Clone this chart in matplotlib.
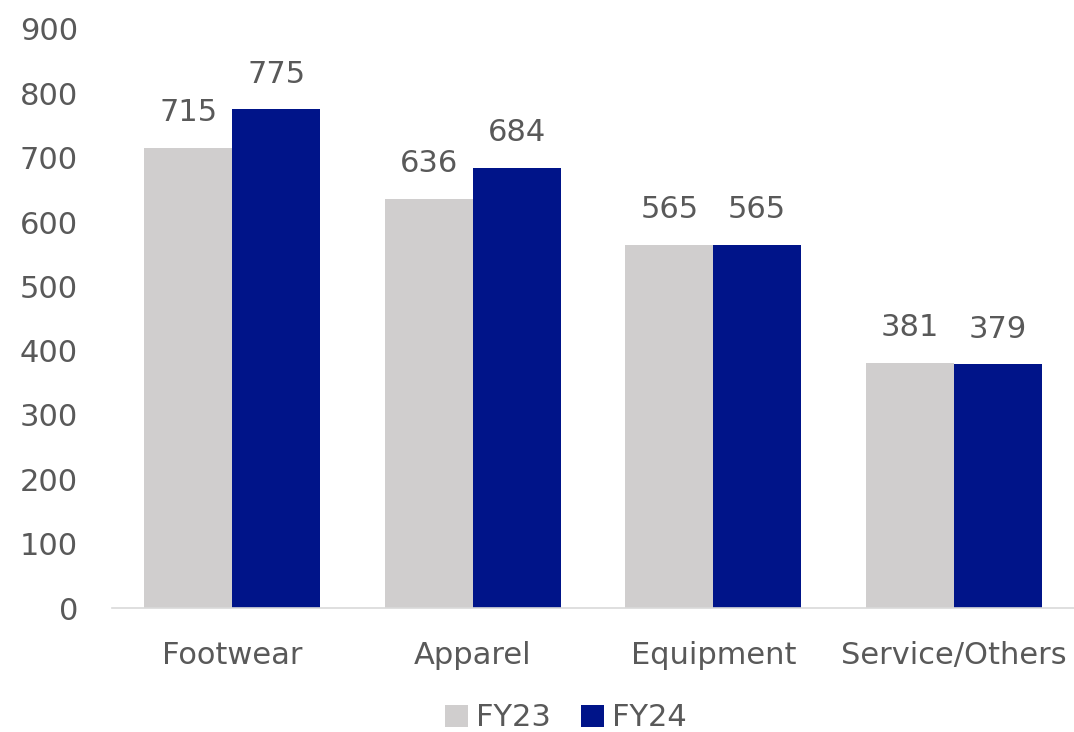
import matplotlib
matplotlib.use("Agg")
import matplotlib.pyplot as plt
import numpy as np

categories = ["Footwear", "Apparel", "Equipment", "Service/Others"]
fy23 = [715, 636, 565, 381]
fy24 = [775, 684, 565, 379]
series_names = ["FY23", "FY24"]
yticks = [0, 100, 200, 300, 400, 500, 600, 700, 800, 900]

c23 = "#D0CECE"
c24 = "#001489"
txt = "#595959"

plt.rcParams['font.family'] = ['DejaVu Sans']
fig = plt.figure(figsize=(10.74, 7.32), dpi=100)
ax = fig.add_axes([112/1074, 1-608/732, 962/1074, (608-29)/732])

x = np.arange(len(categories))
w = 0.365
b1 = ax.bar(x - w/2, fy23, w, color=c23, label=series_names[0])
b2 = ax.bar(x + w/2, fy24, w, color=c24, label=series_names[1])
for bars, vals in ((b1, fy23), (b2, fy24)):
    for r, v in zip(bars, vals):
        ax.text(r.get_x() + r.get_width()/2, v + 32, f"{v}", ha="center", va="bottom",
                fontsize=22, color=txt)

ax.set_xlim(-0.5, 3.5)
ax.set_ylim(0, 900)
ax.set_yticks(yticks)
ax.set_yticklabels([str(t) for t in yticks])
ax.set_xticks(x)
ax.set_xticklabels(categories)
ax.tick_params(axis="both", length=0, labelsize=22, labelcolor=txt)
ax.tick_params(axis="y", pad=24.5)
ax.tick_params(axis="x", pad=24)
for s in ["top", "right", "left"]:
    ax.spines[s].set_visible(False)
ax.spines["bottom"].set_color("#D9D9D9")
ax.spines["bottom"].set_linewidth(1.2)

leg = fig.legend(handles=[b1, b2], labels=series_names, loc="center",
                 bbox_to_anchor=(0.527, 1-718/732), ncol=2, frameon=False,
                 fontsize=22, handlelength=0.75, handleheight=0.75,
                 handletextpad=0.25, columnspacing=1.0)
for t in leg.get_texts():
    t.set_color(txt)

fig.savefig("out.png", dpi=100)
